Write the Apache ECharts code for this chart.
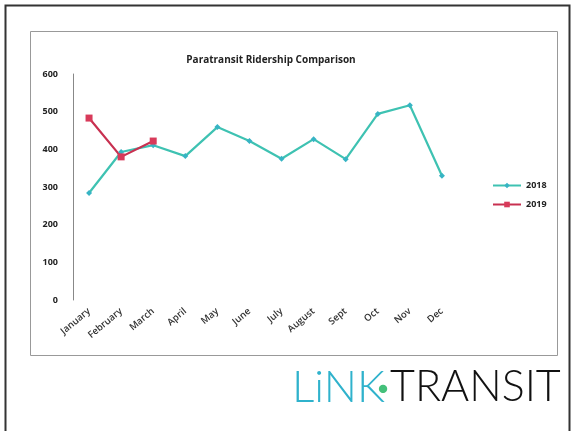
<!DOCTYPE html>
<html><head><meta charset="utf-8">
<script src="https://cdn.jsdelivr.net/npm/echarts@6/dist/echarts.min.js"></script>
<style>html,body{margin:0;padding:0;background:#fff}#c{width:575px;height:431px}</style>
</head><body><div id="c"></div>
<script>
var months = ['January','February','March','April','May','June','July','August','Sept','Oct','Nov','Dec'];
var ridership2018 = [284, 393, 411, 382, 459, 422, 375, 427, 374, 494, 517, 330];
var ridership2019 = [483, 380, 422];
var yTicks = [0, 100, 200, 300, 400, 500, 600];

var chart = echarts.init(document.getElementById('c'), null, {renderer: 'canvas'});
chart.setOption({
  backgroundColor: '#ffffff',
  animation: false,
  title: {
    text: 'Paratransit Ridership Comparison',
    left: 266, top: 50, textAlign: 'center',
    textStyle: {fontFamily: 'Open Sans', fontWeight: 'bold', fontSize: 10, color: '#222'}
  },
  legend: {
    orient: 'vertical', left: 487, top: 176, itemGap: 10, itemWidth: 28, itemHeight: 7,
    data: ['2018', '2019'],
    textStyle: {fontFamily: 'Open Sans', fontWeight: 'bold', fontSize: 9, color: '#222'}
  },
  grid: {left: 73, right: 117, top: 74, bottom: 131},
  xAxis: {
    type: 'category', data: months, boundaryGap: true,
    axisLine: {show: false}, axisTick: {show: false},
    axisLabel: {rotate: 40, fontFamily: 'Open Sans', fontWeight: 600, fontSize: 9.5, color: '#333', margin: 10, interval: 0}
  },
  yAxis: {
    type: 'value', min: yTicks[0], max: yTicks[yTicks.length - 1], interval: 100,
    axisLine: {show: true, lineStyle: {color: '#888', width: 1}},
    axisTick: {show: false}, splitLine: {show: false},
    axisLabel: {fontFamily: 'Open Sans', fontWeight: 'bold', fontSize: 9, color: '#222', margin: 15}
  },
  series: [
    {name: '2018', type: 'line', data: ridership2018, color: '#3ec2b2',
     symbol: 'diamond', symbolSize: 6, lineStyle: {width: 2.2, color: '#3ec2b2'},
     itemStyle: {color: '#37b4c4'}},
    {name: '2019', type: 'line', data: ridership2019, color: '#d3304f',
     symbol: 'rect', symbolSize: 7, lineStyle: {width: 2.2, color: '#c83050'},
     itemStyle: {color: '#d83a5a'}}
  ],
  graphic: [
    {type: 'rect', shape: {x: 5.5, y: 5.5, width: 564, height: 440}, style: {fill: 'none', stroke: '#333', lineWidth: 2}, silent: true},
    {type: 'rect', shape: {x: 30.5, y: 31.5, width: 527, height: 324}, style: {fill: 'none', stroke: '#999', lineWidth: 1}, silent: true},
    {type: 'text', left: 292, top: 366, style: {text: 'LiNK', fontFamily: 'Lato', fontWeight: 300, fontSize: 44, fill: '#2fb2cc'}},
    {type: 'text', left: 377, top: 366, style: {text: '·', fontFamily: 'Lato', fontWeight: 'bold', fontSize: 44, fill: '#44c07a'}},
    {type: 'text', left: 390, top: 366, style: {text: 'TRANSIT', fontFamily: 'Lato', fontWeight: 300, fontSize: 43, fill: '#111'}}
  ]
});
</script></body></html>
